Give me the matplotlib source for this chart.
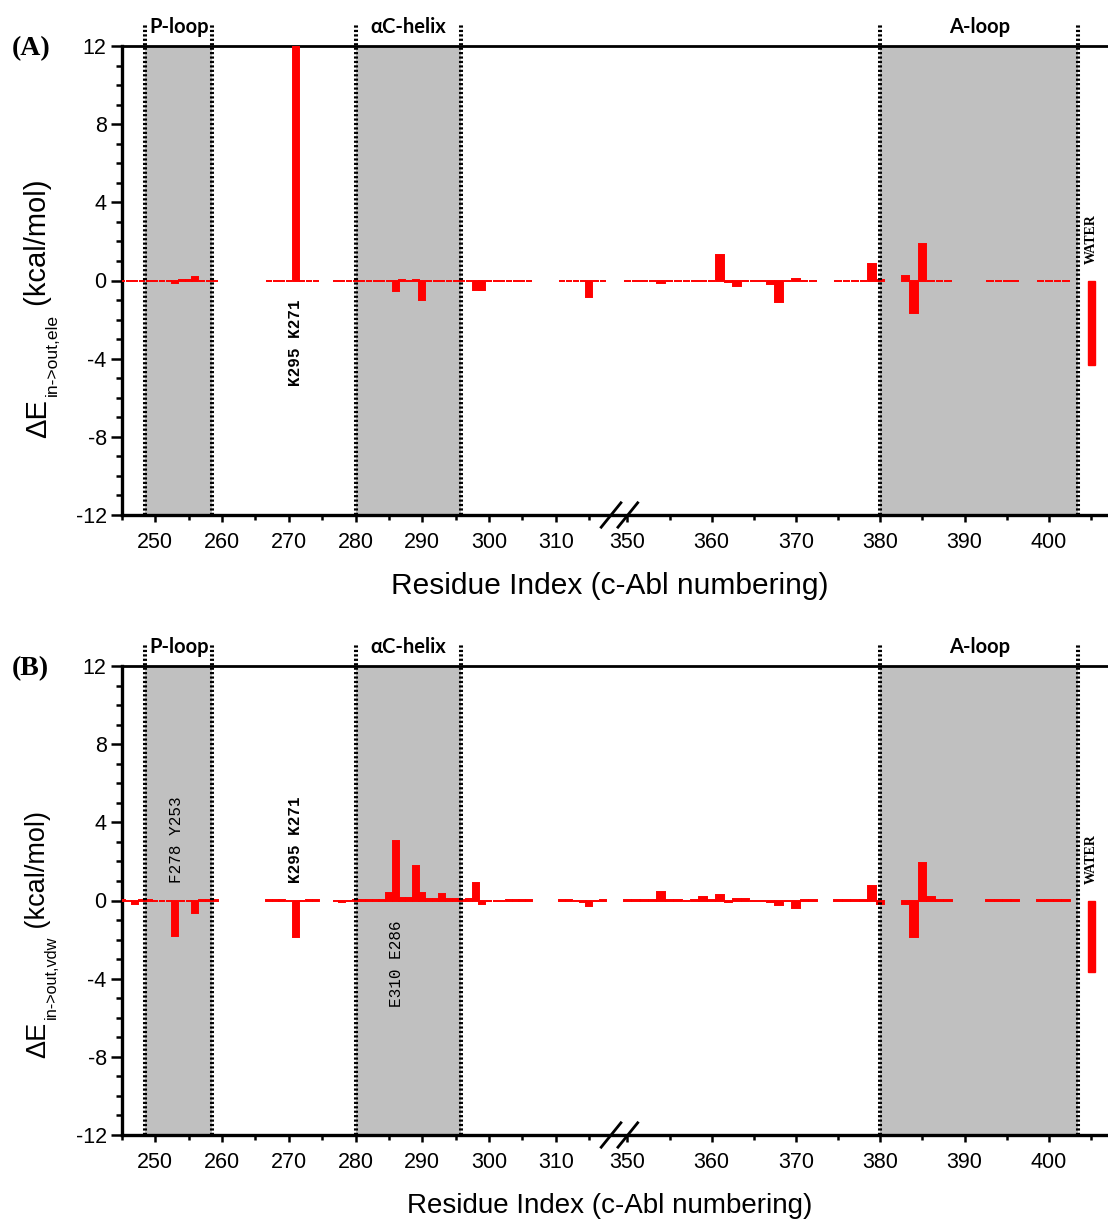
import numpy as np
import matplotlib.pyplot as plt
from matplotlib.ticker import FixedLocator, MultipleLocator

plt.rcParams['font.family'] = ['Liberation Sans', 'DejaVu Sans']
plt.rcParams['axes.unicode_minus'] = False

# residues (c-Abl numbering), segment by segment
res_s1 = list(range(245, 260))
res_s2 = list(range(267, 275))
res_s3 = list(range(277, 307))
res_s4 = list(range(311, 318))
res_s5 = list(range(350, 373))
res_s6 = list(range(375, 381))
res_s7 = list(range(383, 389))
res_s8 = list(range(393, 397))
res_s9 = list(range(399, 403))

# panel A: electrostatic part
ele_s1 = [0, 0, 0, 0, 0, 0, 0, 0, -0.13, 0.03, 0.05, 0.2, 0, 0, 0]
ele_s2 = [0, 0, 0, 0, 12.0, 0, 0, 0]
ele_s3 = [0, 0, 0, 0, 0, 0, 0, 0, -0.05, -0.53, 0.05, 0, 0.05, -1.0, 0,
          0, 0, 0, 0, 0, 0, -0.47, -0.47, 0, 0, 0, 0, 0, 0, 0]
ele_s4 = [0, 0, 0, 0, -0.83, 0, 0]
ele_s5 = [0, 0, 0, 0, -0.12, 0, 0, 0, 0, 0, 0, 1.33, -0.1, -0.3, 0, 0,
          0, -0.17, -1.08, 0, 0.07, 0, 0]
ele_s6 = [0, 0, 0, 0, 0.85, 0.05]
ele_s7 = [0.22, -1.65, 1.85, 0, 0, 0]
ele_s8 = [0, 0, 0, 0]
ele_s9 = [0, 0, 0, 0]
ele_water = -4.3

# panel B: van der Waals part
vdw_s1 = [0.02, -0.05, -0.2, 0.02, 0.02, 0, -0.03, -0.05, -1.8, -0.03, -0.05,
          -0.63, 0.03, 0.03, 0.03]
vdw_s2 = [0.02, 0.02, 0.02, -0.03, -1.88, -0.03, 0.02, 0.02]
vdw_s3 = [-0.03, -0.08, 0, 0.02, 0.03, 0.05, 0.03, 0.05, 0.37, 3.03, 0.15,
          0.15, 1.76, 0.37, 0.08, 0.08, 0.34, 0.1, 0.1, 0.05, 0.1, 0.92, -0.2,
          -0.03, -0.03, -0.02, 0.02, 0.02, 0.02, 0.02]
vdw_s4 = [0.02, 0.02, -0.05, -0.08, -0.28, -0.05, 0.02]
vdw_s5 = [0.05, 0.05, 0.02, 0.02, 0.46, 0.05, 0.02, 0, 0.02, 0.2, 0.05, 0.26,
          -0.1, 0.1, 0.1, -0.05, -0.05, -0.1, -0.22, -0.05, -0.39, 0.02, 0.02]
vdw_s6 = [0.02, 0.02, 0.03, 0.05, 0.73, -0.2]
vdw_s7 = [-0.17, -1.88, 1.91, 0.2, 0.02, 0.02]
vdw_s8 = [0.02, 0.02, 0.02, 0.02]
vdw_s9 = [0.02, 0.02, 0.02, 0.02]
vdw_water = -3.65

water_x = 405
regions = [('P-loop', 248.5, 258.5), ('\u03b1C-helix', 280, 295.8), ('A-loop', 380, 403.5)]
major_x = [250, 260, 270, 280, 290, 300, 310, 350, 360, 370, 380, 390, 400]
minor_x = [245, 255, 265, 275, 285, 295, 305, 315, 355, 365, 375, 385, 395, 405]

# broken x axis: 319.2 | 348.8, right part slightly stretched
BRK_L, BRK_R, K = 319.2, 348.8, 8.44 / 6.68


def fwd(x):
    x = np.asarray(x, dtype=float)
    return np.where(x <= BRK_L, x, BRK_L + np.clip(x - BRK_R, 0, None) * K)


def inv(y):
    y = np.asarray(y, dtype=float)
    return np.where(y <= BRK_L, y, BRK_R + (y - BRK_L) / K)


res = res_s1 + res_s2 + res_s3 + res_s4 + res_s5 + res_s6 + res_s7 + res_s8 + res_s9
ele = ele_s1 + ele_s2 + ele_s3 + ele_s4 + ele_s5 + ele_s6 + ele_s7 + ele_s8 + ele_s9
vdw = vdw_s1 + vdw_s2 + vdw_s3 + vdw_s4 + vdw_s5 + vdw_s6 + vdw_s7 + vdw_s8 + vdw_s9

fig = plt.figure(figsize=(11.08, 12.21), dpi=100)
W, H = 1108.0, 1221.0


def panel(top_px, vals, water, sub, tag, notes, lab_size):
    ax = fig.add_axes([122 / W, 1 - (top_px + 469) / H, 986 / W, 469 / H])
    ax.set_xscale('function', functions=(fwd, inv))
    ax.set_xlim(245, 407)
    ax.set_ylim(-12, 12)

    for name, a, b in regions:
        ax.axvspan(a, b, color='#c0c0c0', lw=0, zorder=0)
        for xx in (a, b):
            ax.plot([xx, xx], [-12, 13.15], color='k', lw=2.9, ls=(0, (0.55, 0.55)),
                    clip_on=False, zorder=4)
        ax.text((a + b) / 2, 12.95, name, ha='center', va='center', fontsize=14.5,
                fontweight='bold', family=['Lato', 'DejaVu Sans'])

    ax.bar(res, vals, width=0.9, color='red', edgecolor='red', lw=1.4, zorder=3)
    ax.bar([water_x], [water], width=0.85, color='red', edgecolor='red', lw=1.0, zorder=3)
    ax.text(water_x, 2.1, 'WATER', rotation=90, ha='center', va='center', fontsize=10,
            fontweight='bold', family='Liberation Serif')

    for txt, x, y, bold in notes:
        ax.text(x, y, txt, rotation=90, ha='center', va='center', fontsize=11.5,
                family='Liberation Mono', fontweight='bold' if bold else 'normal')

    ax.xaxis.set_major_locator(FixedLocator(major_x))
    ax.xaxis.set_minor_locator(FixedLocator(minor_x))
    ax.yaxis.set_major_locator(MultipleLocator(4))
    ax.yaxis.set_minor_locator(MultipleLocator(1))
    ax.tick_params(axis='x', which='major', direction='out', length=5, width=1.8,
                   labelsize=15.5, pad=7)
    ax.tick_params(axis='x', which='minor', direction='out', length=3.5, width=1.8)
    ax.tick_params(axis='y', which='major', direction='out', length=8, width=1.8,
                   labelsize=15.5, pad=3)
    ax.tick_params(axis='y', which='minor', direction='out', length=4, width=1.8)
    ax.spines['right'].set_visible(False)
    ax.spines['left'].set_linewidth(2.4)
    ax.spines['bottom'].set_linewidth(2.4)
    ax.spines['top'].set_linewidth(2.0)
    ax.set_facecolor('none')

    # axis break marks
    for cx in (0.496, 0.513):
        ax.plot([cx - 0.010, cx + 0.010], [-0.026, 0.026], transform=ax.transAxes,
                color='k', lw=2.0, clip_on=False, zorder=5)

    # panel tag and x label
    fig.text(12 / W, 1 - (top_px + 3) / H, tag, ha='left', va='center', fontsize=20,
             fontweight='bold', family='Liberation Serif')
    fig.text(610 / W, 1 - (top_px + 540) / H, 'Residue Index (c-Abl numbering)',
             ha='center', va='center', fontsize=lab_size + 0.5)

    # y label: Delta E with subscript
    t1 = fig.text(38 / W, 1 - (top_px + 392) / H, '\u0394E', rotation=90,
                  ha='center', va='bottom', fontsize=lab_size)
    t2 = ax.annotate(sub, xy=(1, 1), xycoords=t1, xytext=(6, 2),
                     textcoords='offset points', rotation=90, ha='right',
                     va='bottom', fontsize=lab_size * 0.6)
    ax.annotate(' (kcal/mol)', xy=(0.5, 1), xycoords=(t1, t2), rotation=90,
                ha='center', va='bottom', fontsize=lab_size)
    return ax


panel(46, ele, ele_water, 'in->out,ele', '(A)',
      [('K295 K271', 271, -3.2, True)], 21)
panel(666, vdw, vdw_water, 'in->out,vdw', '(B)',
      [('F278 Y253', 253.2, 3.13, False), ('K295 K271', 271, 3.13, True),
       ('E310 E286', 286.2, -3.25, False)], 19.5)

fig.savefig('out.png', dpi=100)
